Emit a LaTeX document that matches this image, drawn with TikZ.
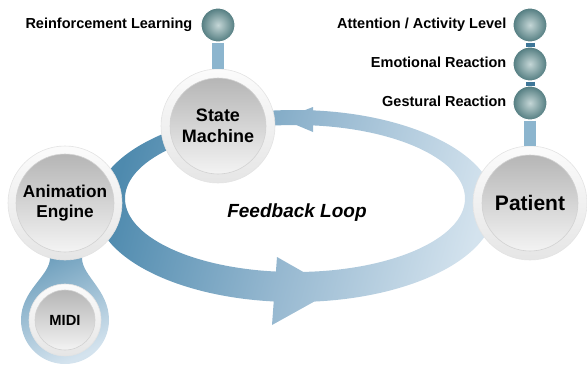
\documentclass[tikz,border=0pt]{standalone}
\usepackage{fontspec}
\setmainfont{Liberation Sans}
\usetikzlibrary{positioning}
\definecolor{loopdark}{RGB}{78,138,174}
\definecolor{loopmid}{RGB}{150,184,208}
\definecolor{looplight}{RGB}{212,227,238}
\definecolor{stemblue}{RGB}{140,181,206}
\definecolor{stemdark}{RGB}{62,118,152}
\definecolor{balltop}{RGB}{196,214,214}
\definecolor{ballrim}{RGB}{82,124,128}

\begin{document}
\begin{tikzpicture}[x=1pt, y=1pt, node distance=4pt,
  bignode/.style={circle, minimum size=#1, inner sep=0pt, draw=gray!22, line width=0.6pt,
    top color=gray!3, bottom color=gray!20, align=center},
  disc/.style={path picture={\shade[top color=gray!62, bottom color=gray!5, draw=gray!35]
    (path picture bounding box.center) circle (#1);}},
  knob/.style={circle, minimum size=34pt, inner sep=0pt, inner color=balltop, outer color=ballrim,
    draw=white, line width=1pt},
  tag/.style={font=\fontsize{14.5}{17}\selectfont\bfseries, inner sep=0pt,
    text height=10.5pt, text depth=3pt},
  stembar/.style={line width=12pt, stemblue}]
  \useasboundingbox (0,0) rectangle (587,368);

  % feedback ring with its two arrow heads
  \shade[left color=loopdark, right color=looplight, middle color=loopmid, shading angle=75]
    (495,162) arc[start angle=0, end angle=360, x radius=200, y radius=96]
    (465,169.5) arc[start angle=0, end angle=-360, x radius=170, y radius=73.5]
    (313,261) -- (282,249) -- (313,236) -- cycle
    (277,111) -- (272,43) -- (335,78) -- cycle;

  % drop round the MIDI node
  \shade[top color=loopdark!90!white, bottom color=looplight, shading angle=25]
    (47,135) -- (50,110) .. controls (50,92) and (21,78) .. (21,48)
    arc[start angle=180, end angle=360, radius=44]
    .. controls (109,78) and (82,92) .. (82,110) -- (85,135) -- cycle;

  \node[bignode=114pt, disc=48pt, font=\fontsize{18}{21.5}\selectfont\bfseries] (sm) at (218,242) {State\\Machine};
  \node[bignode=114pt, disc=49pt, font=\fontsize{17.2}{20}\selectfont\bfseries] (ae) at (65,165) {Animation\\Engine};
  \node[bignode=114pt, disc=48pt, font=\fontsize{21}{24}\selectfont\bfseries] (pt) at (530,165) {Patient};
  \node[bignode=72pt, disc=30pt, font=\fontsize{14.7}{17}\selectfont\bfseries] (midi) at (65,48) {MIDI};

  \node[font=\fontsize{19}{22}\selectfont\bfseries\itshape] (loop) at (297,155) {Feedback Loop};

  \node[knob] (rl) at (218,343) {};
  \node[tag, left=8pt of rl] (rltxt) {Reinforcement Learning};

  \node[knob] (att) at (530,343) {};
  \node[knob, below=of att] (emo) {};
  \node[knob, below=of emo] (ges) {};
  \node[tag, left=6pt of att] (atttxt) {Attention / Activity Level};
  \node[tag, left=6pt of emo] (emotxt) {Emotional Reaction};
  \node[tag, left=6pt of ges] (gestxt) {Gestural Reaction};

  \draw[stembar] (rl) -- (sm);
  \draw[stembar, stemdark, line width=9pt] (att) -- (emo) (emo) -- (ges);
  \draw[stembar] (ges) -- (pt);
\end{tikzpicture}
\end{document}
